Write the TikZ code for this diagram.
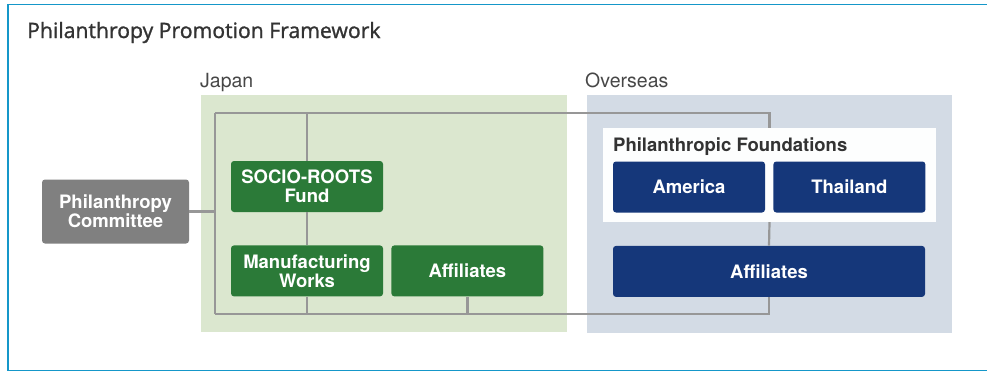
\documentclass[tikz,border=0pt]{standalone}
\usepackage{fontspec}
\setmainfont{TeX Gyre Heros}
\newfontfamily\titlefont[BoldFont={Open Sans}, BoldFeatures={FakeBold=1.2}]{Open Sans}
\usepackage{tikz}
\usetikzlibrary{positioning}
\definecolor{jpgreen}{HTML}{2B7A38}
\definecolor{jpback}{HTML}{DBE7CF}
\definecolor{osnavy}{HTML}{15377A}
\definecolor{osback}{HTML}{D3DBE5}
\definecolor{linkgray}{HTML}{979797}
\definecolor{framecyan}{HTML}{1597C9}
\definecolor{inkgray}{HTML}{333333}
\tikzset{
    orgbox/.style={
        rounded corners=3pt,
        text=white,
        font=\fontsize{18.5}{19}\selectfont\bfseries,
        align=center,
        inner sep=0pt,
        minimum width=152pt,
        minimum height=51pt
    },
    link/.style={draw=linkgray, line width=2.2pt},
    arealabel/.style={anchor=base west, inner sep=0pt, text=inkgray!90, font=\fontsize{19.5}{20}\selectfont}
}

\begin{document}
\begin{tikzpicture}[x=1pt,y=-1pt]
    \useasboundingbox (0,0) rectangle (987,372);
    % frame
    \draw[framecyan, line width=1.5pt] (987,4.5) -- (8,4.5) -- (8,370.5) -- (987,370.5);
    \node[anchor=base west, inner sep=0pt, text=inkgray, font=\titlefont\bfseries\fontsize{21.2}{24}\selectfont] (title) at (27,38) {Philanthropy Promotion Framework};

    % regions
    \fill[jpback] (201,95) rectangle (567,332);
    \fill[osback] (587,95) rectangle (952,333);
    \node[arealabel] (japan) at (200,87) {Japan};
    \node[arealabel] (overseas) at (585,87) {Overseas};

    % japan side
    \node[orgbox, fill=black!50, minimum width=147pt, minimum height=64pt] (committee) at (115.5,211.5) {Philanthropy\\Committee};
    \node[orgbox, fill=jpgreen] (socio) at (307,186.5) {SOCIO-ROOTS\\Fund};
    \node[orgbox, fill=jpgreen, below=33pt of socio] (works) {Manufacturing\\Works};
    \node[orgbox, fill=jpgreen, right=8pt of works] (jpaff) {Affiliates};

    % overseas side
    \node[fill=white!96!osback, minimum width=333pt, minimum height=94pt, inner sep=0pt] (found) at (769.5,175) {};
    \node[anchor=base west, inner sep=0pt, text=inkgray, font=\fontsize{18.5}{20}\selectfont\bfseries] (foundlabel) at (613,151) {Philanthropic Foundations};
    \node[orgbox, fill=osnavy] (america) at (689,187) {America};
    \node[orgbox, fill=osnavy, right=8pt of america] (thailand) {Thailand};
    \node[orgbox, fill=osnavy, minimum width=312pt, below=33pt of america.south west, anchor=north west] (osaff) {Affiliates};

    % links
    \coordinate (topleft) at (215,113);
    \coordinate (botleft) at (215,314);
    \draw[link] (committee.east) -- (committee.east -| topleft);
    \draw[link] (topleft) -- (botleft);
    \draw[link] (topleft) -| (found.north);
    \draw[link] (botleft) -| (osaff.south);
    \draw[link] (socio.north) -- (socio.north |- topleft);
    \draw[link] (socio) -- (works);
    \draw[link] (works.south) -- (works.south |- botleft);
    \draw[link] (jpaff.south) -- (jpaff.south |- botleft);
    \draw[link] (found.south) -- (osaff.north);
\end{tikzpicture}
\end{document}
